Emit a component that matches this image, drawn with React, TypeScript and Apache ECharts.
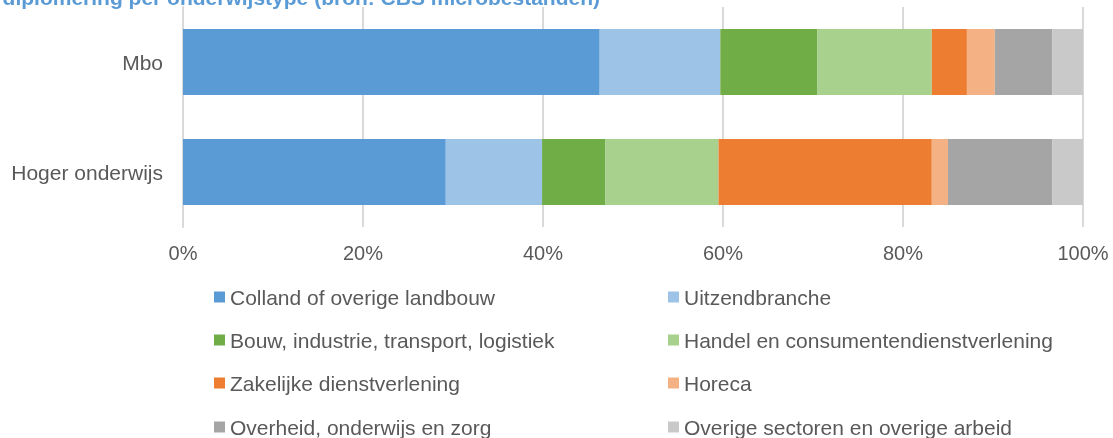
import React, { useEffect, useRef } from "react";
import * as echarts from "echarts";

const categories = ["Mbo", "Hoger onderwijs"];
const seriesNames = [
  "Colland of overige landbouw",
  "Uitzendbranche",
  "Bouw, industrie, transport, logistiek",
  "Handel en consumentendienstverlening",
  "Zakelijke dienstverlening",
  "Horeca",
  "Overheid, onderwijs en zorg",
  "Overige sectoren en overige arbeid",
];
const colland = [46.3, 29.2];
const uitzend = [13.4, 10.7];
const bouw = [10.8, 7.0];
const handel = [12.7, 12.6];
const zakelijk = [3.9, 23.7];
const horeca = [3.1, 1.8];
const overheid = [6.4, 11.6];
const overige = [3.4, 3.4];
const seriesValues = [colland, uitzend, bouw, handel, zakelijk, horeca, overheid, overige];
const colors = ["#5B9BD5", "#9DC3E6", "#70AD47", "#A9D18E", "#ED7D31", "#F4B183", "#A5A5A5", "#C9C9C9"];
const xTicks = [0, 20, 40, 60, 80, 100];
const titleText = "diplomering per onderwijstype (bron: CBS microbestanden)";

export default function App() {
  const ref = useRef<HTMLDivElement>(null);
  useEffect(() => {
    if (!ref.current) return;
    const chart = echarts.init(ref.current, null, { renderer: "svg" });
    const font = "Liberation Sans, Arial, sans-serif";
    const textColor = "#595959";
    const rowCenters = [297, 340, 383, 427];
    const colLefts = [214, 668];
    const legends = seriesNames.map((name, i) => ({
      orient: "horizontal",
      left: colLefts[i % 2],
      top: rowCenters[Math.floor(i / 2)] - 11,
      padding: 0,
      itemWidth: 11,
      itemHeight: 11,
      itemGap: 0,
      icon: "rect",
      selectedMode: false,
      textStyle: { fontSize: 21, color: textColor, fontFamily: font, lineHeight: 22, padding: [0, 0, 0, 0] },
      data: [name],
    }));
    chart.setOption({
      animation: false,
      color: colors,
      graphic: [
        {
          type: "text",
          x: 600,
          y: 8,
          style: {
            text: titleText,
            fill: "#5B9BD5",
            font: `bold 21px ${font}`,
            textAlign: "right",
            textVerticalAlign: "bottom",
          },
        },
      ],
      legend: legends,
      grid: { left: 183, right: 30, top: 7, height: 220, containLabel: false },
      xAxis: {
        type: "value",
        min: 0,
        max: 100,
        interval: 20,
        axisLine: { show: false },
        axisTick: { show: false },
        splitLine: { show: true, lineStyle: { color: "#d9d9d9", width: 2 } },
        axisLabel: {
          formatter: (v: number) => (xTicks.includes(v) ? `${v}%` : ""),
          fontSize: 20,
          color: textColor,
          fontFamily: font,
          margin: 16,
        },
      },
      yAxis: {
        type: "category",
        data: categories,
        inverse: true,
        axisLine: { show: true, lineStyle: { color: "#d9d9d9", width: 2 } },
        axisTick: { show: false },
        axisLabel: { fontSize: 21, color: textColor, fontFamily: font, margin: 20 },
      },
      series: seriesNames.map((name, i) => ({
        name,
        type: "bar",
        stack: "total",
        barWidth: "60%",
        data: seriesValues[i],
      })),
    });
    return () => chart.dispose();
  }, []);
  return <div ref={ref} style={{ position: "fixed", left: 0, top: 0, width: 1113, height: 438 }} />;
}
